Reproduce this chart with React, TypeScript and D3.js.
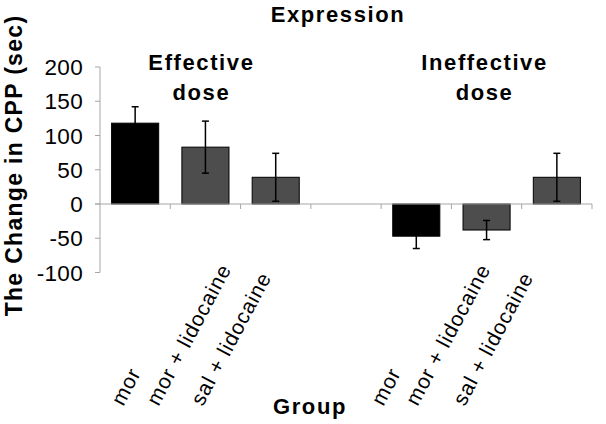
import React from "react";
import * as d3 from "d3";

const categories = ["mor", "mor + lidocaine", "sal + lidocaine", "", "mor", "mor + lidocaine", "sal + lidocaine"];
const values: (number | null)[] = [118, 83, 39, null, -47, -38, 39];
const errors: (number | null)[] = [24, 38, 35, null, 18, 14, 35];
const barColors = ["#000000", "#4d4d4d", "#4d4d4d", "#4d4d4d", "#000000", "#4d4d4d", "#4d4d4d"];
const yTicks = [-100, -50, 0, 50, 100, 150, 200];
const labelDx = [-12, -47, -73, 0, -33, -69, -92];
const groupTitles = [
  { lines: ["Effective", "dose"], slot: 1 },
  { lines: ["Ineffective", "dose"], slot: 5 },
];

const W = 606;
const H = 424;
const FONT = "'Liberation Sans', Arial, Helvetica, sans-serif";

export default function App() {
  const idx = categories.map((_, i) => i);
  const x = d3.scaleBand<number>().domain(idx).range([100, 592]).paddingInner(0.33).paddingOuter(0.165);
  const y = d3.scaleLinear().domain([-100, 200]).range([272.5, 67]);
  const step = x.step();
  const left = 100;
  const right = 592;
  const y0 = y(0);
  const cap = 3.5;
  const axisColor = "#a6a6a6";

  return (
    <svg width={W} height={H} style={{ position: "absolute", left: 0, top: 0, background: "#fff" }}>
      {/* title */}
      <text x={338} y={22} textAnchor="middle" fontFamily={FONT} fontWeight="bold" fontSize={22} letterSpacing={1.6}>
        Expression
      </text>
      {/* group titles */}
      {groupTitles.map((g, gi) =>
        g.lines.map((ln, li) => (
          <text
            key={gi + "-" + li}
            x={(x(g.slot) as number) + x.bandwidth() / 2 - 4 + gi * 2}
            y={70 + li * 30}
            textAnchor="middle"
            fontFamily={FONT}
            fontWeight="bold"
            fontSize={22}
            letterSpacing={1.6}
          >
            {ln}
          </text>
        ))
      )}
      {/* y axis */}
      <line x1={left} x2={left} y1={y(200)} y2={y(-100)} stroke={axisColor} strokeWidth={1} />
      {yTicks.map((t) => (
        <g key={t}>
          <line x1={left - 5} x2={left} y1={y(t)} y2={y(t)} stroke={axisColor} strokeWidth={1} />
          <text
            x={83}
            y={y(t)}
            dy="0.36em"
            textAnchor="end"
            fontFamily={FONT}
            fontSize={22.5}
            letterSpacing={0.3}
          >
            {t}
          </text>
        </g>
      ))}
      {/* bars */}
      {values.map((v, i) =>
        v === null ? null : (
          <rect
            key={"b" + i}
            x={x(i)}
            y={Math.min(y(v), y0)}
            width={x.bandwidth()}
            height={Math.abs(y(v) - y0)}
            fill={barColors[i]}
            stroke="#000"
            strokeWidth={1}
          />
        )
      )}
      {/* x axis */}
      <line x1={left - 5} x2={right} y1={y0} y2={y0} stroke={axisColor} strokeWidth={1.2} />
      {d3.range(1, categories.length + 1).map((k) => (
        <line key={"t" + k} x1={left + k * step} x2={left + k * step} y1={y0} y2={y0 + 5} stroke={axisColor} strokeWidth={1} />
      ))}
      {/* error bars */}
      {values.map((v, i) => {
        const e = errors[i];
        if (v === null || e === null) return null;
        const cx = (x(i) as number) + x.bandwidth() / 2;
        return (
          <g key={"e" + i} stroke="#000" strokeWidth={1.5}>
            <line x1={cx} x2={cx} y1={y(v + e)} y2={y(v - e)} />
            <line x1={cx - cap} x2={cx + cap} y1={y(v + e)} y2={y(v + e)} />
            <line x1={cx - cap} x2={cx + cap} y1={y(v - e)} y2={y(v - e)} />
          </g>
        );
      })}
      {/* category labels */}
      {categories.map((c, i) =>
        c === "" ? null : (
          <text
            key={"l" + i}
            transform={`translate(${(x(i) as number) + x.bandwidth() / 2 + labelDx[i]},407) rotate(-62)`}
            fontFamily={FONT}
            fontSize={21}
            letterSpacing={0.9}
          >
            {c}
          </text>
        )
      )}
      {/* axis titles */}
      <text x={310} y={414} textAnchor="middle" fontFamily={FONT} fontWeight="bold" fontSize={22} letterSpacing={1.6}>
        Group
      </text>
      <text
        transform={`translate(22,165.5) rotate(-90)`}
        textAnchor="middle"
        fontFamily={FONT}
        fontWeight="bold"
        fontSize={23}
        letterSpacing={1.3}
      >
        The Change in CPP (sec)
      </text>
    </svg>
  );
}
